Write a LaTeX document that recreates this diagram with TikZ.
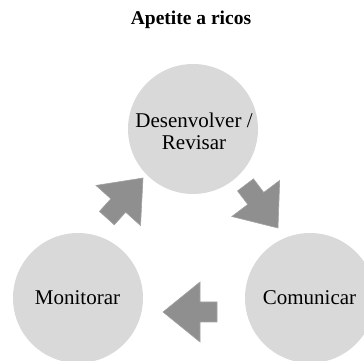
\documentclass[tikz,border=0pt]{standalone}
\usepackage{fontspec}
\setmainfont{Liberation Serif}
\definecolor{circgray}{HTML}{D9D9D9}
\definecolor{arrgray}{HTML}{8F8F8F}
\definecolor{arredge}{HTML}{A3A3A3}
\begin{document}
\begin{tikzpicture}[x=1pt,y=1pt,
  phase/.style={circle,fill=circgray,minimum size=130pt,inner sep=0pt},
  lbl/.style={font=\fontsize{21}{22}\selectfont,align=center,inner sep=0pt},
  blockarrow/.pic={\fill[arrgray,draw=arredge,line width=0.6pt]
     (-54,-10) -- (-37,-10) -- (-37,-30) -- (0,0) -- (-37,30) -- (-37,10) -- (-54,10) -- cycle;}]
\useasboundingbox (0,0) rectangle (364,361);
\node[font=\bfseries\fontsize{19.5}{22}\selectfont,anchor=base] (title) at (191,336) {Apetite a ricos};
\node[phase] (top) at (193,232) {};
\node[phase] (left) at (78,63) {};
\node[phase] (right) at (310,63) {};
\node[lbl] (toptxt) at (top.center) [xshift=1pt,yshift=-2pt] {Desenvolver /\\Revisar};
\node[lbl,anchor=base] (lefttxt) at (77.5,56) {Monitorar};
\node[lbl,anchor=base] (righttxt) at (309.5,56) {Comunicar};
\pic[rotate=48] at (143,183) {blockarrow};
\pic[rotate=-53] at (278,133) {blockarrow};
\pic[rotate=180] at (163,49) {blockarrow};
\end{tikzpicture}
\end{document}
